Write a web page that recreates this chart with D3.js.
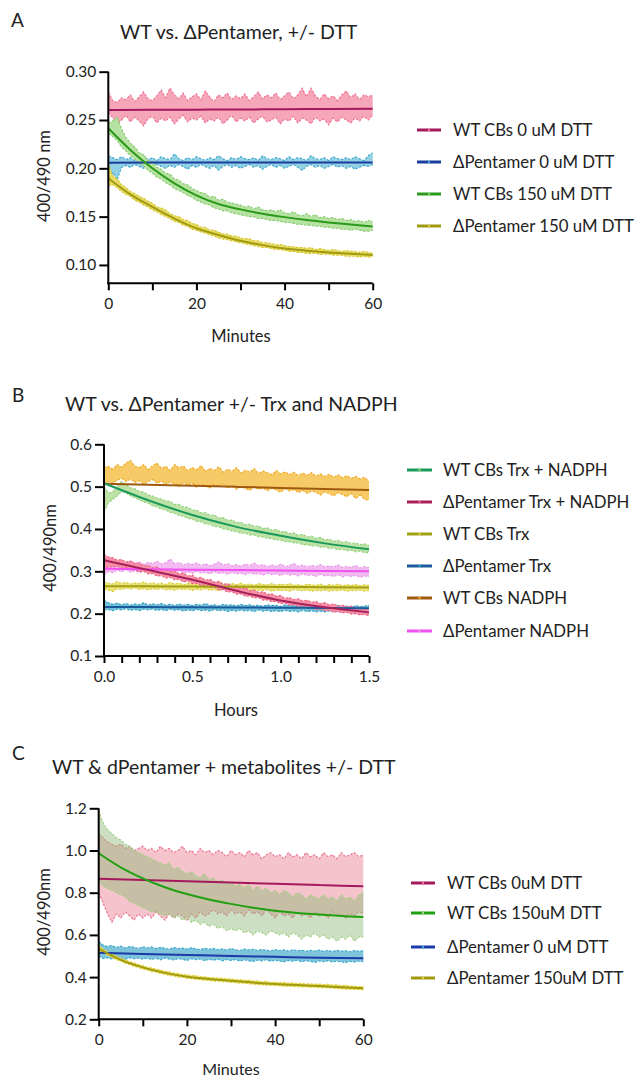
<!DOCTYPE html>
<html><head><meta charset="utf-8">
<script src="https://cdn.jsdelivr.net/npm/d3@7"></script>
<style>
body{margin:0;background:#fff}
svg{display:block}
text{font-family:Lato,"Open Sans",sans-serif;fill:#222}
</style>
</head><body>
<svg id="chart" width="640" height="1080"></svg>
<script>
// ---------------- Panel A (minutes, one value per minute 0..60) ----------------
const labelsA = ["WT CBs 0 uM DTT", "\u0394Pentamer 0 uM DTT", "WT CBs 150 uM DTT", "\u0394Pentamer 150 uM DTT"];
const xTicksA = [0, 20, 40, 60];
const xMinorA = [10, 30, 50];
const yTicksA = [0.10, 0.15, 0.20, 0.25, 0.30];
const fitT10 = [0, 10, 20, 30, 40, 50, 60];
const fitT5 = [0, 5, 10, 15, 20, 25, 30, 35, 40, 45, 50, 55, 60];

const wt0UpperA = [0.279,0.270,0.268,0.273,0.271,0.276,0.269,0.274,0.279,0.272,0.270,0.275,0.281,0.273,0.283,0.276,0.272,0.278,0.270,0.274,0.277,0.271,0.280,0.274,0.269,0.276,0.273,0.278,0.271,0.275,0.272,0.277,0.270,0.274,0.279,0.272,0.276,0.273,0.278,0.271,0.275,0.279,0.272,0.276,0.283,0.274,0.283,0.275,0.271,0.277,0.272,0.275,0.270,0.276,0.280,0.273,0.277,0.271,0.276,0.274,0.276];
const wt0LowerA = [0.258,0.252,0.246,0.250,0.255,0.248,0.253,0.249,0.244,0.251,0.254,0.247,0.252,0.249,0.253,0.246,0.251,0.255,0.248,0.252,0.250,0.254,0.247,0.251,0.249,0.253,0.246,0.250,0.255,0.248,0.252,0.249,0.253,0.247,0.251,0.254,0.248,0.250,0.253,0.246,0.251,0.249,0.254,0.247,0.252,0.250,0.246,0.253,0.249,0.251,0.245,0.252,0.248,0.253,0.250,0.247,0.252,0.249,0.254,0.250,0.255];
const wt0FitA = [0.2603,0.2605,0.2607,0.2609,0.2612,0.2614,0.2617];

const dp0UpperA = [0.213,0.211,0.209,0.212,0.209,0.211,0.208,0.210,0.213,0.209,0.211,0.208,0.212,0.210,0.209,0.215,0.210,0.208,0.211,0.209,0.212,0.210,0.208,0.211,0.209,0.213,0.210,0.208,0.211,0.209,0.212,0.210,0.209,0.211,0.208,0.213,0.210,0.209,0.211,0.210,0.208,0.212,0.209,0.211,0.210,0.208,0.213,0.210,0.209,0.211,0.208,0.212,0.210,0.209,0.211,0.209,0.212,0.210,0.208,0.213,0.216];
const dp0LowerA = [0.186,0.196,0.188,0.201,0.203,0.201,0.204,0.202,0.200,0.203,0.201,0.204,0.202,0.200,0.203,0.201,0.204,0.202,0.199,0.203,0.201,0.204,0.202,0.200,0.203,0.198,0.202,0.204,0.201,0.203,0.200,0.202,0.204,0.201,0.203,0.199,0.202,0.204,0.201,0.203,0.200,0.202,0.204,0.201,0.198,0.202,0.204,0.201,0.203,0.200,0.202,0.204,0.201,0.203,0.200,0.202,0.199,0.201,0.203,0.202,0.204];
const dp0FitA = [0.2058,0.2059,0.2059,0.2060,0.2060,0.2061,0.2061];

const wt150UpperA = [0.247,0.249,0.253,0.241,0.232,0.226,0.222,0.216,0.214,0.208,0.206,0.201,0.199,0.195,0.194,0.189,0.188,0.184,0.183,0.179,0.177,0.175,0.174,0.170,0.171,0.167,0.168,0.165,0.164,0.163,0.162,0.160,0.161,0.158,0.160,0.157,0.156,0.157,0.155,0.157,0.154,0.153,0.155,0.152,0.151,0.153,0.150,0.152,0.149,0.150,0.148,0.149,0.147,0.148,0.146,0.147,0.145,0.146,0.144,0.146,0.145];
const wt150LowerA = [0.236,0.233,0.229,0.222,0.218,0.213,0.210,0.205,0.203,0.198,0.195,0.191,0.189,0.185,0.183,0.179,0.177,0.175,0.172,0.170,0.167,0.165,0.163,0.162,0.159,0.158,0.156,0.156,0.154,0.153,0.152,0.151,0.150,0.150,0.148,0.148,0.147,0.146,0.146,0.145,0.144,0.144,0.143,0.142,0.142,0.141,0.141,0.140,0.140,0.139,0.139,0.138,0.138,0.137,0.137,0.136,0.137,0.136,0.135,0.135,0.136];
const wt150FitA = [0.2414,0.2190,0.2000,0.1845,0.1720,0.1630,0.1575,0.1530,0.1495,0.1465,0.1440,0.1418,0.1397];

const dp150UpperA = [0.205,0.192,0.189,0.183,0.180,0.176,0.174,0.171,0.169,0.166,0.164,0.160,0.159,0.157,0.153,0.151,0.150,0.147,0.146,0.143,0.142,0.139,0.139,0.136,0.136,0.134,0.132,0.132,0.130,0.130,0.128,0.127,0.127,0.125,0.125,0.123,0.123,0.122,0.121,0.121,0.120,0.119,0.119,0.118,0.118,0.117,0.118,0.116,0.117,0.116,0.115,0.116,0.115,0.114,0.115,0.114,0.114,0.113,0.114,0.113,0.112];
const dp150LowerA = [0.182,0.183,0.180,0.176,0.173,0.171,0.167,0.165,0.162,0.160,0.157,0.155,0.152,0.150,0.148,0.145,0.144,0.141,0.140,0.137,0.136,0.134,0.133,0.131,0.130,0.128,0.127,0.126,0.125,0.124,0.123,0.122,0.121,0.120,0.119,0.118,0.118,0.117,0.116,0.116,0.115,0.114,0.114,0.113,0.113,0.112,0.112,0.112,0.111,0.111,0.111,0.110,0.110,0.110,0.109,0.109,0.109,0.108,0.109,0.108,0.109];
const dp150FitA = [0.1897,0.1730,0.1600,0.1480,0.1380,0.1310,0.1250,0.1205,0.1170,0.1148,0.1130,0.1115,0.1103];

// ---------------- Panel B (hours, one value every 0.025 h, 0..1.5) ----------------
const labelsB = ["WT CBs Trx + NADPH", "\u0394Pentamer Trx + NADPH", "WT CBs Trx", "\u0394Pentamer Trx", "WT CBs NADPH", "\u0394Pentamer NADPH"];
const xTicksB = [0, 0.5, 1.0, 1.5];
const xMinorB = [0.1, 0.2, 0.3, 0.4, 0.6, 0.7, 0.8, 0.9, 1.1, 1.2, 1.3, 1.4];
const yTicksB = [0.1, 0.2, 0.3, 0.4, 0.5, 0.6];
const fitTB = [0, 0.25, 0.5, 0.75, 1.0, 1.25, 1.5];

const wtTNUpperB = [0.500,0.485,0.488,0.502,0.512,0.505,0.497,0.495,0.489,0.487,0.480,0.478,0.473,0.471,0.466,0.465,0.458,0.458,0.452,0.451,0.445,0.444,0.438,0.438,0.432,0.433,0.426,0.427,0.420,0.421,0.415,0.416,0.410,0.411,0.406,0.407,0.401,0.403,0.397,0.399,0.393,0.394,0.389,0.391,0.385,0.387,0.381,0.383,0.378,0.380,0.374,0.376,0.371,0.373,0.368,0.370,0.366,0.367,0.363,0.365,0.361];
const wtTNLowerB = [0.440,0.462,0.470,0.478,0.488,0.485,0.478,0.474,0.469,0.464,0.461,0.455,0.452,0.447,0.445,0.439,0.437,0.432,0.430,0.425,0.423,0.418,0.417,0.412,0.411,0.406,0.405,0.400,0.399,0.395,0.394,0.390,0.390,0.386,0.386,0.382,0.381,0.378,0.377,0.374,0.374,0.370,0.370,0.367,0.367,0.363,0.363,0.360,0.361,0.357,0.358,0.354,0.355,0.351,0.352,0.349,0.350,0.346,0.348,0.344,0.345];
const wtTNFitB = [0.508,0.468,0.433,0.405,0.384,0.366,0.352];

const dpTNUpperB = [0.340,0.334,0.332,0.326,0.328,0.322,0.324,0.318,0.319,0.313,0.314,0.308,0.310,0.303,0.305,0.299,0.301,0.294,0.296,0.289,0.291,0.284,0.286,0.279,0.281,0.274,0.276,0.269,0.271,0.264,0.266,0.259,0.261,0.254,0.256,0.250,0.252,0.245,0.247,0.241,0.243,0.236,0.238,0.233,0.235,0.230,0.232,0.227,0.229,0.224,0.226,0.221,0.223,0.218,0.220,0.216,0.218,0.213,0.215,0.211,0.210];
const dpTNLowerB = [0.300,0.312,0.310,0.313,0.307,0.309,0.303,0.304,0.299,0.300,0.294,0.295,0.289,0.290,0.284,0.286,0.280,0.281,0.275,0.277,0.271,0.272,0.266,0.267,0.262,0.263,0.256,0.257,0.251,0.252,0.246,0.247,0.241,0.242,0.237,0.238,0.232,0.233,0.228,0.229,0.224,0.225,0.220,0.221,0.217,0.218,0.213,0.214,0.210,0.211,0.207,0.208,0.204,0.205,0.202,0.203,0.199,0.200,0.197,0.198,0.195];
const dpTNFitB = [0.326,0.303,0.280,0.254,0.231,0.215,0.203];

const wtTUpperB = [0.275,0.272,0.270,0.276,0.271,0.274,0.270,0.273,0.271,0.275,0.270,0.273,0.270,0.272,0.269,0.274,0.270,0.272,0.268,0.271,0.273,0.269,0.271,0.268,0.272,0.269,0.277,0.270,0.268,0.271,0.269,0.272,0.268,0.270,0.267,0.271,0.269,0.268,0.271,0.267,0.270,0.268,0.271,0.267,0.269,0.266,0.270,0.268,0.267,0.270,0.266,0.269,0.267,0.270,0.266,0.268,0.267,0.269,0.266,0.268,0.267];
const wtTLowerB = [0.258,0.256,0.252,0.259,0.257,0.260,0.258,0.261,0.257,0.259,0.256,0.259,0.257,0.260,0.256,0.258,0.255,0.259,0.257,0.258,0.255,0.258,0.256,0.259,0.255,0.257,0.254,0.258,0.256,0.257,0.254,0.257,0.255,0.258,0.254,0.256,0.255,0.257,0.253,0.256,0.254,0.256,0.253,0.257,0.255,0.254,0.256,0.253,0.255,0.254,0.256,0.253,0.255,0.254,0.256,0.253,0.255,0.254,0.256,0.253,0.255];
const wtTFitB = [0.265,0.2645,0.264,0.2635,0.263,0.2625,0.262];

const dpTUpperB = [0.232,0.226,0.222,0.225,0.221,0.224,0.220,0.223,0.221,0.226,0.220,0.223,0.221,0.224,0.220,0.222,0.219,0.223,0.220,0.222,0.219,0.222,0.220,0.224,0.219,0.221,0.218,0.222,0.220,0.221,0.218,0.222,0.219,0.221,0.218,0.220,0.217,0.221,0.219,0.220,0.217,0.221,0.218,0.220,0.217,0.219,0.216,0.220,0.218,0.219,0.216,0.220,0.217,0.219,0.216,0.218,0.215,0.219,0.217,0.218,0.219];
const dpTLowerB = [0.208,0.210,0.207,0.211,0.209,0.212,0.208,0.210,0.207,0.211,0.209,0.211,0.208,0.210,0.207,0.211,0.208,0.210,0.206,0.209,0.207,0.210,0.207,0.209,0.206,0.210,0.207,0.209,0.205,0.208,0.206,0.209,0.206,0.208,0.205,0.209,0.206,0.208,0.205,0.207,0.205,0.208,0.205,0.207,0.204,0.208,0.205,0.207,0.204,0.206,0.204,0.207,0.204,0.206,0.203,0.206,0.204,0.205,0.203,0.206,0.204];
const dpTFitB = [0.216,0.2155,0.215,0.2145,0.214,0.2135,0.213];

const wtNUpperB = [0.545,0.548,0.541,0.552,0.546,0.556,0.562,0.548,0.545,0.552,0.540,0.549,0.556,0.543,0.548,0.538,0.552,0.544,0.549,0.537,0.545,0.540,0.550,0.536,0.543,0.538,0.547,0.534,0.541,0.536,0.545,0.532,0.539,0.534,0.543,0.531,0.537,0.533,0.528,0.538,0.530,0.535,0.528,0.534,0.526,0.532,0.527,0.533,0.525,0.530,0.524,0.529,0.522,0.528,0.521,0.526,0.520,0.524,0.518,0.522,0.512];
const wtNLowerB = [0.505,0.512,0.508,0.515,0.520,0.512,0.518,0.510,0.514,0.506,0.512,0.517,0.508,0.513,0.505,0.511,0.506,0.500,0.510,0.504,0.508,0.498,0.506,0.501,0.497,0.504,0.499,0.506,0.497,0.502,0.494,0.500,0.496,0.491,0.499,0.494,0.497,0.490,0.496,0.492,0.487,0.495,0.490,0.493,0.486,0.491,0.484,0.490,0.486,0.480,0.488,0.483,0.478,0.486,0.481,0.476,0.484,0.472,0.480,0.470,0.468];
const wtNFitB = [0.507,0.5045,0.502,0.4995,0.497,0.4945,0.492];

const dpNUpperB = [0.322,0.318,0.326,0.320,0.323,0.317,0.325,0.319,0.322,0.316,0.321,0.318,0.324,0.317,0.320,0.329,0.318,0.321,0.315,0.319,0.316,0.320,0.314,0.318,0.313,0.317,0.322,0.315,0.318,0.313,0.316,0.312,0.317,0.314,0.320,0.313,0.316,0.311,0.315,0.312,0.317,0.311,0.314,0.318,0.312,0.315,0.310,0.314,0.311,0.316,0.310,0.313,0.310,0.315,0.309,0.312,0.309,0.314,0.308,0.311,0.309];
const dpNLowerB = [0.292,0.300,0.297,0.303,0.299,0.304,0.298,0.302,0.297,0.301,0.299,0.303,0.298,0.301,0.296,0.300,0.297,0.302,0.296,0.299,0.295,0.300,0.296,0.298,0.294,0.299,0.295,0.297,0.293,0.298,0.294,0.296,0.292,0.297,0.293,0.295,0.291,0.296,0.292,0.294,0.290,0.295,0.291,0.293,0.289,0.294,0.290,0.292,0.288,0.293,0.289,0.291,0.288,0.292,0.287,0.290,0.288,0.291,0.286,0.289,0.287];
const dpNFitB = [0.306,0.305,0.304,0.303,0.302,0.301,0.300];

// ---------------- Panel C (minutes, one value per minute 0..60) ----------------
const labelsC = ["WT CBs 0uM DTT", "WT CBs 150uM DTT", "\u0394Pentamer 0 uM DTT", "\u0394Pentamer 150uM DTT"];
const xTicksC = [0, 20, 40, 60];
const xMinorC = [10, 30, 50];
const yTicksC = [0.2, 0.4, 0.6, 0.8, 1.0, 1.2];

const wt0UpperC = [1.08,1.06,1.04,1.03,1.02,1.03,1.01,1.02,1.00,1.01,1.02,1.00,1.01,0.99,1.02,1.00,1.01,0.99,1.00,1.02,0.99,1.00,0.98,1.01,0.99,1.00,0.98,1.00,0.99,0.97,1.00,0.98,0.99,0.97,1.00,0.98,0.99,0.96,0.98,0.99,0.97,0.98,0.96,0.99,0.97,0.98,0.96,0.99,0.97,0.98,0.96,0.99,0.97,0.98,0.96,0.99,0.97,0.98,0.99,0.97,0.98];
const wt0LowerC = [0.80,0.75,0.70,0.66,0.70,0.68,0.71,0.69,0.67,0.70,0.68,0.70,0.68,0.71,0.69,0.67,0.70,0.68,0.70,0.69,0.67,0.70,0.68,0.71,0.69,0.70,0.72,0.70,0.71,0.69,0.72,0.70,0.71,0.69,0.72,0.70,0.71,0.69,0.72,0.70,0.68,0.71,0.69,0.70,0.68,0.71,0.69,0.70,0.68,0.71,0.69,0.70,0.68,0.71,0.69,0.70,0.68,0.70,0.69,0.71,0.70];
const wt0FitC = [0.866,0.860,0.854,0.848,0.842,0.836,0.830];

const wt150UpperC = [1.19,1.13,1.10,1.08,1.06,1.05,1.03,1.02,1.00,0.99,0.98,0.97,0.96,0.95,0.94,0.93,0.94,0.91,0.92,0.90,0.89,0.90,0.88,0.87,0.89,0.86,0.87,0.85,0.86,0.84,0.85,0.83,0.84,0.82,0.84,0.81,0.83,0.81,0.82,0.80,0.81,0.79,0.81,0.80,0.78,0.80,0.79,0.77,0.79,0.78,0.77,0.79,0.77,0.78,0.76,0.79,0.77,0.78,0.76,0.79,0.80];
const wt150LowerC = [0.86,0.83,0.82,0.81,0.80,0.79,0.78,0.76,0.75,0.74,0.73,0.72,0.71,0.71,0.70,0.69,0.70,0.68,0.69,0.67,0.68,0.66,0.67,0.65,0.66,0.64,0.65,0.63,0.64,0.62,0.63,0.62,0.63,0.61,0.62,0.60,0.62,0.61,0.60,0.62,0.61,0.60,0.61,0.59,0.61,0.60,0.58,0.60,0.59,0.61,0.59,0.60,0.58,0.59,0.57,0.59,0.58,0.60,0.57,0.59,0.59];
const wt150FitC = [0.987,0.920,0.868,0.826,0.794,0.768,0.747,0.729,0.714,0.704,0.697,0.690,0.685];

const dp0UpperC = [0.570,0.552,0.545,0.550,0.540,0.547,0.538,0.545,0.541,0.536,0.544,0.538,0.543,0.535,0.541,0.537,0.532,0.540,0.535,0.538,0.533,0.539,0.534,0.530,0.537,0.532,0.536,0.530,0.534,0.528,0.535,0.530,0.526,0.533,0.529,0.532,0.526,0.531,0.527,0.524,0.531,0.526,0.529,0.523,0.530,0.525,0.528,0.522,0.527,0.524,0.528,0.522,0.526,0.521,0.527,0.523,0.525,0.520,0.526,0.522,0.525];
const dp0LowerC = [0.500,0.488,0.492,0.486,0.494,0.488,0.484,0.492,0.487,0.491,0.485,0.490,0.484,0.488,0.482,0.490,0.486,0.481,0.488,0.484,0.479,0.487,0.482,0.486,0.478,0.484,0.480,0.485,0.477,0.483,0.479,0.484,0.476,0.482,0.478,0.474,0.481,0.477,0.482,0.475,0.480,0.476,0.472,0.479,0.475,0.480,0.473,0.478,0.474,0.470,0.477,0.473,0.478,0.471,0.476,0.472,0.469,0.475,0.471,0.476,0.473];
const dp0FitC = [0.515,0.510,0.505,0.500,0.496,0.492,0.489];

const dp150UpperC = [0.552,0.532,0.521,0.508,0.500,0.489,0.483,0.473,0.468,0.459,0.455,0.447,0.444,0.437,0.434,0.427,0.425,0.419,0.418,0.412,0.411,0.407,0.407,0.402,0.402,0.398,0.398,0.395,0.396,0.392,0.392,0.388,0.388,0.385,0.386,0.381,0.383,0.378,0.380,0.375,0.377,0.373,0.375,0.371,0.373,0.369,0.371,0.367,0.369,0.366,0.367,0.364,0.366,0.362,0.364,0.359,0.361,0.357,0.358,0.355,0.356];
const dp150LowerC = [0.515,0.516,0.502,0.495,0.482,0.476,0.465,0.460,0.450,0.446,0.437,0.434,0.426,0.424,0.416,0.414,0.407,0.406,0.400,0.399,0.394,0.393,0.390,0.388,0.385,0.384,0.381,0.381,0.378,0.378,0.375,0.374,0.371,0.371,0.368,0.367,0.365,0.364,0.362,0.361,0.359,0.359,0.357,0.357,0.355,0.355,0.353,0.353,0.352,0.352,0.350,0.350,0.348,0.348,0.346,0.345,0.343,0.343,0.341,0.341,0.339];
const dp150FitC = [0.535,0.482,0.446,0.420,0.402,0.391,0.383,0.374,0.367,0.362,0.358,0.352,0.347];

// ---------------- drawing ----------------
const svg = d3.select("#chart");
const TICK_FONT = 15.5, LABEL_FONT = 16.5, LEGEND_FONT = 16.8, TITLE_FONT = 19.5;

function drawPanel(p) {
  const g = svg.append("g");
  const x = d3.scaleLinear().domain(p.xDomain).range(p.xRange);
  const y = d3.scaleLinear().domain(p.yDomain).range(p.yRange);

  // bands (mean +/- SD of raw data)
  p.series.forEach(s => {
    const n = Math.min(s.upper.length, s.lower.length);
    const pts = d3.range(n).map(i => ({t: i * p.step, u: s.upper[i], l: s.lower[i]}));
    g.append("path").datum(pts)
      .attr("d", d3.area().x(d => x(d.t)).y0(d => y(d.l)).y1(d => y(d.u)))
      .attr("fill", s.fill).attr("fill-opacity", s.fillOp == null ? 1 : s.fillOp);
    ["u", "l"].forEach(k => {
      g.append("path").datum(pts)
        .attr("d", d3.line().x(d => x(d.t)).y(d => y(d[k])))
        .attr("fill", "none").attr("stroke", s.edge).attr("stroke-width", 1.1)
        .attr("stroke-dasharray", "2.5,1.5");
    });
  });
  // fitted curves
  p.series.forEach(s => {
    const pts = s.fit.map((v, i) => [s.fitT[i], v]);
    g.append("path").datum(pts)
      .attr("d", d3.line().x(d => x(d[0])).y(d => y(d[1])).curve(d3.curveMonotoneX))
      .attr("fill", "none").attr("stroke", s.line).attr("stroke-width", 2);
  });

  // axes
  const yAx = g.append("g").attr("transform", `translate(${p.xRange[0]},0)`)
    .call(d3.axisLeft(y).tickValues(p.yTicks).tickFormat(d3.format(p.yFmt)).tickSize(9).tickPadding(3).tickSizeOuter(0));
  const xAx = g.append("g").attr("transform", `translate(0,${p.yRange[0]})`)
    .call(d3.axisBottom(x).tickValues(p.xTicks).tickFormat(d3.format(p.xFmt)).tickSize(7).tickPadding(8).tickSizeOuter(0));
  const xMin = g.append("g").attr("transform", `translate(0,${p.yRange[0]})`)
    .call(d3.axisBottom(x).tickValues(p.xMinor).tickFormat("").tickSize(7).tickSizeOuter(0));
  xMin.select(".domain").remove();
  [yAx, xAx, xMin].forEach(a => {
    a.selectAll("path,line").attr("stroke", "#000").attr("stroke-width", 2);
    a.selectAll("text").attr("font-size", TICK_FONT).attr("font-family", "Lato").attr("fill", "#222");
  });
  yAx.select(".domain").attr("d", `M0,${p.yRange[1]}V${p.yRange[0] + 1}`);
  xAx.select(".domain").attr("d", `M${p.xRange[0] - 1},0H${p.xRange[1]}`);

  // labels
  g.append("text").attr("x", p.letterX).attr("y", p.letterY).attr("font-size", 19).text(p.letter);
  g.append("text").attr("x", p.titleX).attr("y", p.titleY).attr("font-size", TITLE_FONT).text(p.title);
  g.append("text").attr("x", p.xLabelX).attr("y", p.xLabelY).attr("text-anchor", "middle").attr("font-size", p.xLabelFont || LABEL_FONT).text(p.xLabel);
  g.append("text").attr("transform", `translate(${p.yLabelX},${p.yLabelY}) rotate(-90)`).attr("text-anchor", "middle").attr("font-size", LABEL_FONT).text(p.yLabel);

  // legend
  p.legend.forEach((s, i) => {
    const ly = p.legY[i];
    g.append("line").attr("x1", p.legX1).attr("x2", p.legX2).attr("y1", ly).attr("y2", ly)
      .attr("stroke", s.line).attr("stroke-width", 3);
    g.append("rect").attr("x", (p.legX1 + p.legX2) / 2 - 1).attr("y", ly - 1).attr("width", 2).attr("height", 2)
      .attr("fill", s.edge);
    g.append("text").attr("x", p.legTextX).attr("y", ly + 6).attr("font-size", LEGEND_FONT).text(s.name);
  });
}

// Panel A
const sA = [
  {name: labelsA[0], upper: wt0UpperA, lower: wt0LowerA, fit: wt0FitA, fitT: fitT10, fill: "#f5a6b8", edge: "#ef6f92", line: "#a3195b"},
  {name: labelsA[1], upper: dp0UpperA, lower: dp0LowerA, fit: dp0FitA, fitT: fitT10, fill: "#92d0e4", edge: "#3ba7cb", line: "#1a3c9e"},
  {name: labelsA[2], upper: wt150UpperA, lower: wt150LowerA, fit: wt150FitA, fitT: fitT5, fill: "#b6e2a2", edge: "#86ca6e", line: "#2a9a1a"},
  {name: labelsA[3], upper: dp150UpperA, lower: dp150LowerA, fit: dp150FitA, fitT: fitT5, fill: "#e9dc62", edge: "#d6c52e", line: "#a09a10"}
];
drawPanel({
  series: sA, legend: sA, step: 1,
  xDomain: [0, 60], xRange: [108.3, 372.7], yDomain: [0.081, 0.30], yRange: [283.3, 71.7],
  xTicks: xTicksA, xMinor: xMinorA, yTicks: yTicksA, xFmt: "d", yFmt: ".2f",
  letter: "A", letterX: 11, letterY: 27, title: "WT vs. \u0394Pentamer, +/- DTT", titleX: 120, titleY: 39,
  xLabel: "Minutes", xLabelX: 241, xLabelY: 342, yLabel: "400/490 nm", yLabelX: 50, yLabelY: 176,
  legY: [130, 162, 194, 226], legX1: 417, legX2: 441, legTextX: 453
});

// Panel B
const sB = {
  wtTN: {name: labelsB[0], upper: wtTNUpperB, lower: wtTNLowerB, fit: wtTNFitB, fitT: fitTB, fill: "#bce2a6", edge: "#92d07c", line: "#1a9a5a"},
  dpTN: {name: labelsB[1], upper: dpTNUpperB, lower: dpTNLowerB, fit: dpTNFitB, fitT: fitTB, fill: "#f590a6", edge: "#ee6080", line: "#a8205a"},
  wtT:  {name: labelsB[2], upper: wtTUpperB, lower: wtTLowerB, fit: wtTFitB, fitT: fitTB, fill: "#ebe278", edge: "#d9d040", line: "#a0a010"},
  dpT:  {name: labelsB[3], upper: dpTUpperB, lower: dpTLowerB, fit: dpTFitB, fitT: fitTB, fill: "#74c2da", edge: "#2f9fc2", line: "#1a5a9a"},
  wtN:  {name: labelsB[4], upper: wtNUpperB, lower: wtNLowerB, fit: wtNFitB, fitT: fitTB, fill: "#f6ca66", edge: "#f0aa22", line: "#a05a10"},
  dpN:  {name: labelsB[5], upper: dpNUpperB, lower: dpNLowerB, fit: dpNFitB, fitT: fitTB, fill: "#f2bcf2", edge: "#e896e8", line: "#f050f0"}
};
drawPanel({
  series: [sB.wtN, sB.wtTN, sB.dpN, sB.wtT, sB.dpT, sB.dpTN],
  legend: [sB.wtTN, sB.dpTN, sB.wtT, sB.dpT, sB.wtN, sB.dpN], step: 0.025,
  xDomain: [0, 1.5], xRange: [104, 369], yDomain: [0.1, 0.6], yRange: [656, 444.3],
  xTicks: xTicksB, xMinor: xMinorB, yTicks: yTicksB, xFmt: ".1f", yFmt: ".1f",
  letter: "B", letterX: 12, letterY: 402, title: "WT vs. \u0394Pentamer +/- Trx and NADPH", titleX: 65, titleY: 411,
  xLabel: "Hours", xLabelX: 236, xLabelY: 716, yLabel: "400/490nm", yLabelX: 56, yLabelY: 548,
  legY: [470, 502, 534, 566, 598, 631], legX1: 407, legX2: 432, legTextX: 443
});

// Panel C
const sC = [
  {name: labelsC[0], upper: wt0UpperC, lower: wt0LowerC, fit: wt0FitC, fitT: fitT10, fill: "#e87a8c", fillOp: 0.45, edge: "#ee7090", line: "#a3195b"},
  {name: labelsC[1], upper: wt150UpperC, lower: wt150LowerC, fit: wt150FitC, fitT: fitT5, fill: "#8fb877", fillOp: 0.45, edge: "#a2d283", line: "#20a010"},
  {name: labelsC[2], upper: dp0UpperC, lower: dp0LowerC, fit: dp0FitC, fitT: fitT10, fill: "#80c4dc", edge: "#32a8cc", line: "#1a3aa8"},
  {name: labelsC[3], upper: dp150UpperC, lower: dp150LowerC, fit: dp150FitC, fitT: fitT5, fill: "#f0e060", edge: "#e0d040", line: "#a09a10"}
];
drawPanel({
  series: sC, legend: sC, step: 1,
  xDomain: [0, 60], xRange: [98.7, 363.3], yDomain: [0.2, 1.2], yRange: [1019.3, 808.3],
  xTicks: xTicksC, xMinor: xMinorC, yTicks: yTicksC, xFmt: "d", yFmt: ".1f",
  letter: "C", letterX: 12, letterY: 760, title: "WT & dPentamer + metabolites +/- DTT", titleX: 52, titleY: 774,
  xLabel: "Minutes", xLabelX: 231, xLabelY: 1075, xLabelFont: 16, yLabel: "400/490nm", yLabelX: 50, yLabelY: 912,
  legY: [883, 913, 947, 978], legX1: 411, legX2: 435, legTextX: 447
});
</script>
</body></html>
